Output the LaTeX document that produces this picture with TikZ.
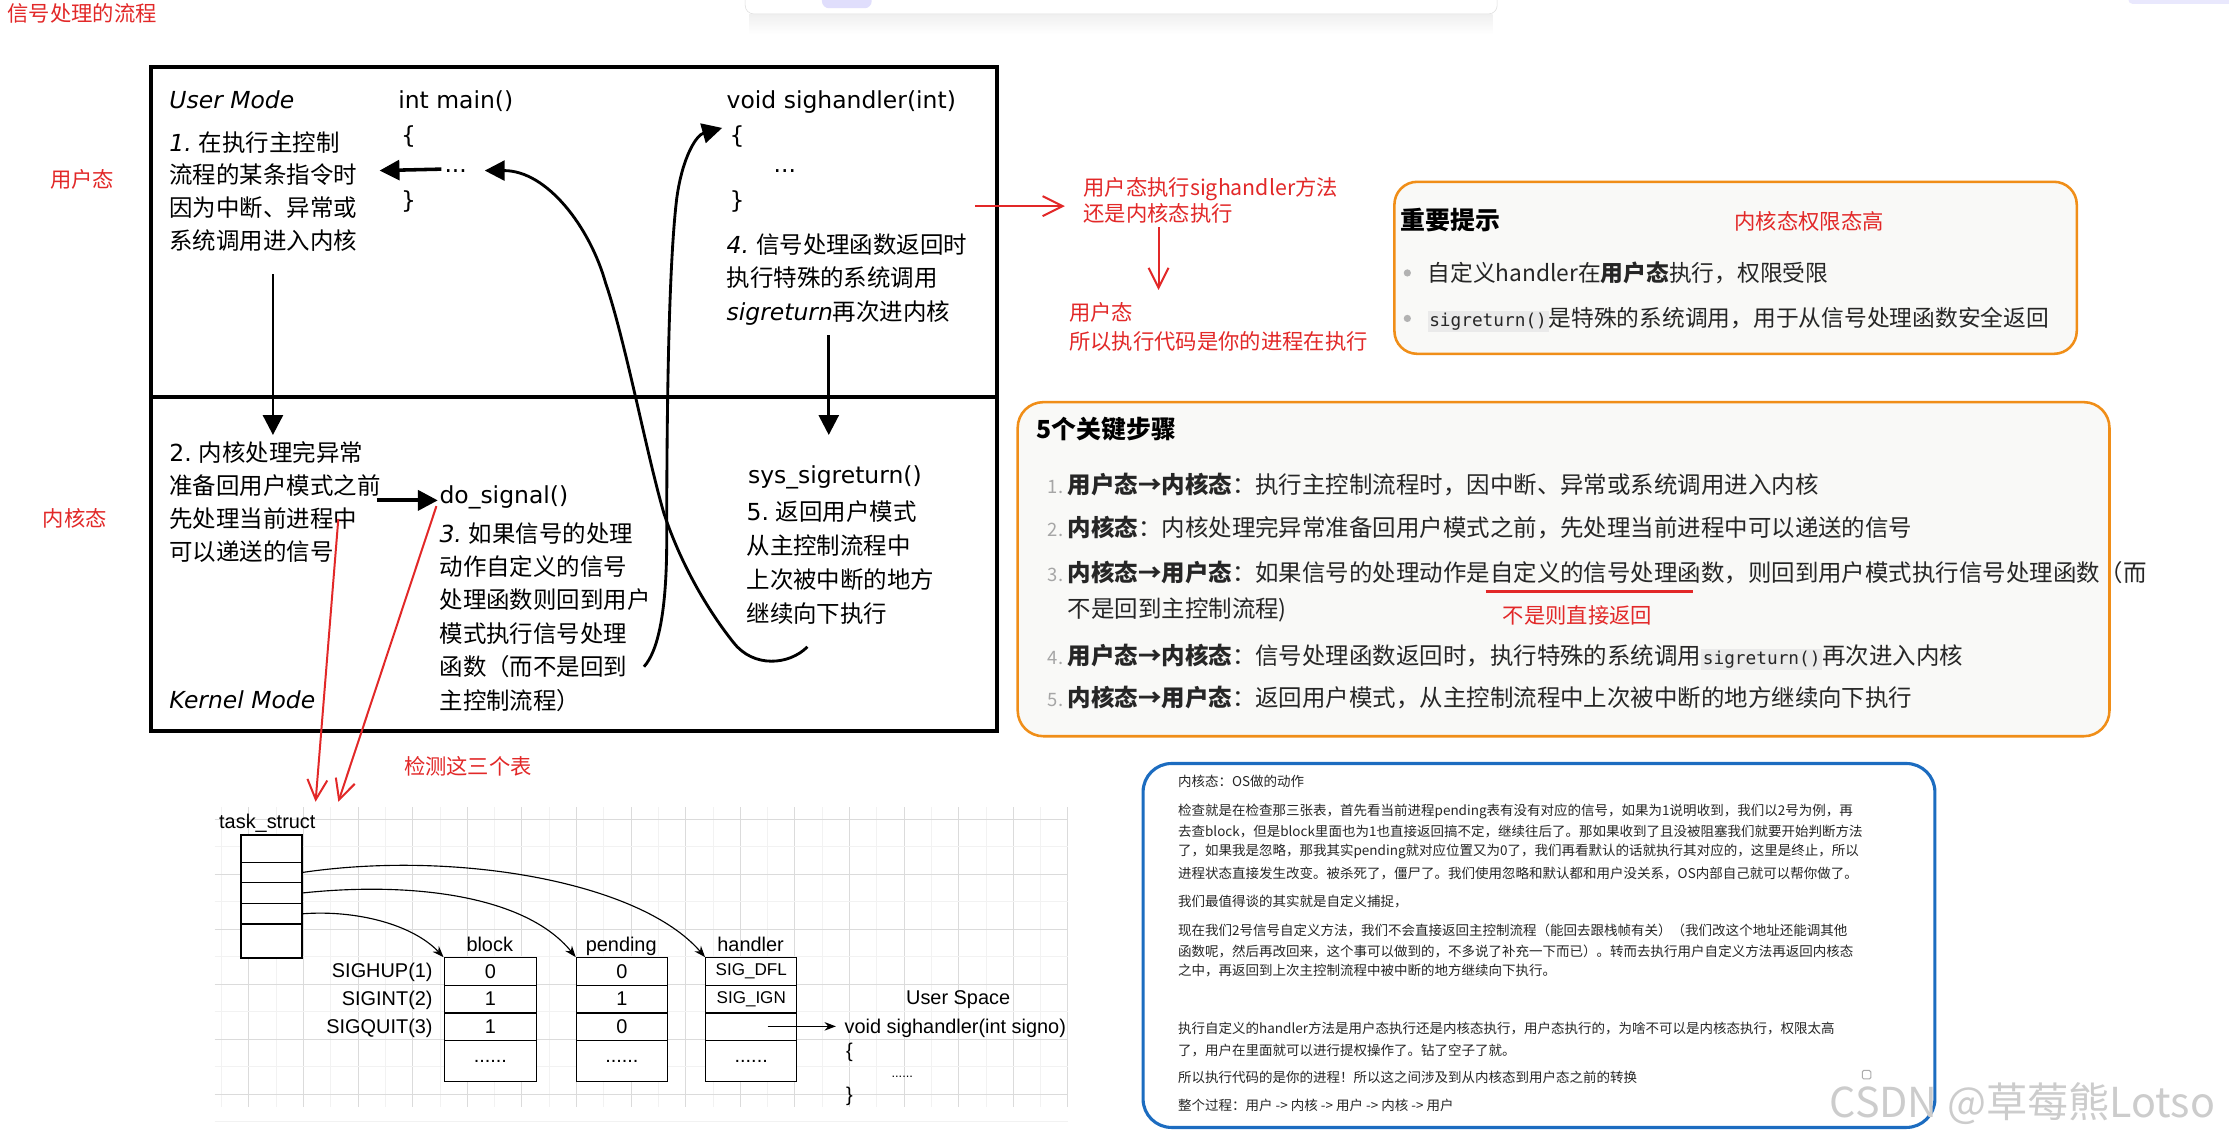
\documentclass[tikz,border=0pt]{standalone}
\usepackage{fontspec}
\setmainfont{Noto Sans CJK SC}
\newfontfamily\dejavu{DejaVu Sans}[ItalicFont={DejaVu Sans Oblique}]
\newfontfamily\monof{DejaVu Sans Mono}
\newfontfamily\tabf{Liberation Sans}
\usetikzlibrary{arrows.meta}
\definecolor{myred}{RGB}{226,40,40}
\definecolor{myorange}{RGB}{240,142,24}
\definecolor{myblue}{RGB}{28,108,192}
\definecolor{boxfill}{RGB}{249,249,247}
\definecolor{codebg}{RGB}{234,234,234}
\definecolor{lav}{RGB}{224,222,252}
\newcommand\codebox[1]{{\setlength\fboxsep{1.2pt}\colorbox{codebg}{\monof\fontsize{12.5}{14}\selectfont #1}}}
\begin{document}
\begin{tikzpicture}[x=1pt,y=-1pt,
 lnw/.style={anchor=base west,inner sep=0pt},
 cjm/.style={font=\fontsize{16.5}{20}\selectfont},
 latm/.style={font=\dejavu\fontsize{16.5}{20}\selectfont},
 itm/.style={font=\dejavu\itshape\fontsize{16.5}{20}\selectfont},
 redt/.style={text=myred,font=\fontsize{15}{18}\selectfont},
 bigarr/.style={line width=#1,-{Triangle[length=14pt,width=14pt]}},
 redarr/.style={draw=myred,line width=1.4pt,-{Straight Barb[length=14pt,width=14pt]}},
 rowt/.style={text=black!85,font=\fontsize{16.5}{20}\selectfont},
 numt/.style={text=gray!70,font=\fontsize{13}{16}\selectfont},
 tipt/.style={text=black!85,font=\fontsize{16}{18}\selectfont},
 bluet/.style={anchor=base west,inner sep=0pt,text=black!85,font=\fontsize{9.5}{11}\selectfont},
 gmaj/.style={draw=gray!28,line width=0.6pt},
 gmin/.style={draw=gray!10,line width=0.5pt},
 tcell/.style={draw,line width=0.9pt,fill=white,anchor=north west,inner sep=0pt,font=\tabf\fontsize{14}{16}\selectfont},
 tabt/.style={inner sep=0pt,font=\tabf\fontsize{14}{16}\selectfont},
 tarr/.style={line width=0.8pt,-{Stealth[length=8pt,width=6pt]}},
]
\fill[white] (0,0) rectangle (1568,799);
\useasboundingbox (0,0) rectangle (1568,799);

% faint top elements
\shade[top color=gray!12,bottom color=white] (527,10) rectangle (1050,24);
\node[draw=gray!25,fill=white,rounded corners=6pt,minimum width=529pt,minimum height=22pt,anchor=south west,inner sep=0pt] (topbar) at (524,10) {};
\node[fill=lav,rounded corners=5pt,minimum width=35pt,minimum height=16pt,anchor=south west,inner sep=0pt] (pill) at (578,6) {};
\node[fill=lav!70,rounded corners=3pt,minimum width=80pt,minimum height=12pt,anchor=south west,inner sep=0pt] (topright) at (1497,3) {};

% title and side labels
\node[lnw,redt] (title) at (5,15) {信号处理的流程};
\node[lnw,redt] (lblU) at (35,131.7) {用户态};
\node[lnw,redt] (lblK) at (30,370.7) {内核态};

% main box
\node[draw=black,line width=2.8pt,fill=white,minimum width=595pt,minimum height=467pt,anchor=north west,inner sep=0pt] (mainbox) at (105,46) {};
\coordinate (divL) at (105,279);
\coordinate (divR) at (700,279);
\draw[line width=2.8pt] (divL) -- (divR);

% user mode texts
\node[lnw,itm] (umode) at (119,76.3) {User Mode};
\node[lnw,latm] (mainf) at (280,76.3) {int main()};
\node[lnw,latm] (sighf) at (511,76.3) {void sighandler(int)};
\node[lnw,cjm] (s1a) at (119,106.3) {{\dejavu\itshape 1.} 在执行主控制};
\node[lnw,cjm] (s1b) at (119,129.3) {流程的某条指令时};
\node[lnw,cjm] (s1c) at (119,152.3) {因为中断、异常或};
\node[lnw,cjm] (s1d) at (119,175.3) {系统调用进入内核};
\node[lnw,latm] (mlb) at (282,101) {\{};
\node[lnw,latm] (mdots) at (312.5,121.5) {...};
\node[lnw,latm] (mrb) at (282,147) {\}};
\node[lnw,latm] (hlb) at (513,101) {\{};
\node[lnw,latm] (hdots) at (544,121.5) {...};
\node[lnw,latm] (hrb) at (513,147) {\}};
\node[lnw,cjm] (s4a) at (511,178.3) {{\dejavu\itshape 4.} 信号处理函数返回时};
\node[lnw,cjm] (s4b) at (511,201.8) {执行特殊的系统调用};
\node[lnw,cjm] (s4c) at (511,225.3) {{\dejavu\itshape sigreturn}再次进内核};

% kernel mode texts
\node[lnw,cjm] (s2a) at (119,324.3) {{\dejavu 2.} 内核处理完异常};
\node[lnw,cjm] (s2b) at (119,347.8) {准备回用户模式之前};
\node[lnw,cjm] (s2c) at (119,371.3) {先处理当前进程中};
\node[lnw,cjm] (s2d) at (119,394.3) {可以递送的信号};
\node[lnw,latm] (dosig) at (309,354.3) {do\_signal()};
\node[lnw,cjm] (s3a) at (309,381.3) {{\dejavu\itshape 3.} 如果信号的处理};
\node[lnw,cjm] (s3b) at (309,404.8) {动作自定义的信号};
\node[lnw,cjm] (s3c) at (309,428.3) {处理函数则回到用户};
\node[lnw,cjm] (s3d) at (309,451.8) {模式执行信号处理};
\node[lnw,cjm] (s3e) at (309,475.3) {函数（而不是回到};
\node[lnw,cjm] (s3f) at (309,498.8) {主控制流程）};
\node[lnw,latm] (sysret) at (526,340.3) {sys\_sigreturn()};
\node[lnw,cjm] (s5a) at (525,366.3) {{\dejavu 5.} 返回用户模式};
\node[lnw,cjm] (s5b) at (525,390.3) {从主控制流程中};
\node[lnw,cjm] (s5c) at (525,414.3) {上次被中断的地方};
\node[lnw,cjm] (s5d) at (525,437.8) {继续向下执行};
\node[lnw,itm] (kmode) at (119,498.3) {Kernel Mode};

% black arrows
\coordinate (a1s) at (192,193);
\coordinate (a1e) at (192,306);
\draw[bigarr=2pt] (a1s) -- (a1e);
\coordinate (a4s) at (583,236);
\coordinate (a4e) at (583,306);
\draw[bigarr=2pt] (a4s) -- (a4e);
\coordinate (a2s) at (265,352);
\coordinate (a2e) at (308,352);
\draw[bigarr=2.8pt] (a2s) -- (a2e);
\coordinate (a0e) at (267,120);
\draw[bigarr=2.5pt] (mdots.west) ++(-2,-1.5) coordinate (a0s) (a0s) -- (a0e);
\coordinate (cAs) at (453,469);
\coordinate (cAe) at (508,90);
\draw[bigarr=2pt] (cAs) .. controls (463,458) and (469,430) .. (469,380) .. controls (469,300) and (470,190) .. (476,140) .. controls (480,110) and (490,95) .. (cAe);
\coordinate (cBs) at (568,455);
\coordinate (cBe) at (341,120);
\draw[bigarr=2pt] (cBs) .. controls (555,468) and (530,470) .. (516,452) .. controls (500,432) and (480,400) .. (467,361) .. controls (455,320) and (440,240) .. (426,199) .. controls (415,160) and (385,120) .. (cBe);

% red annotations right of main box
\coordinate (ra1s) at (686,145);
\coordinate (ra1e) at (749,145);
\draw[redarr] (ra1s) -- (ra1e);
\node[lnw,redt] (q1) at (762,137.5) {用户态执行sighandler方法};
\node[lnw,redt] (q2) at (762,155.5) {还是内核态执行};
\coordinate (ra2s) at (815,160);
\coordinate (ra2e) at (815,204);
\draw[redarr] (ra2s) -- (ra2e);
\node[lnw,redt] (q3) at (752,225.7) {用户态};
\node[lnw,redt] (q4) at (752,245.7) {所以执行代码是你的进程在执行};

% box 1: important tips
\node[draw=myorange,line width=1.8pt,fill=boxfill,rounded corners=16pt,minimum width=480pt,minimum height=121pt,anchor=north west,inner sep=0pt] (tipbox) at (980,127) {};
\node[lnw,font=\bfseries\fontsize{17.5}{20}\selectfont] (tiphead) at (985,161.5) {重要提示};
\node[lnw,redt] (tipred) at (1220,161.7) {内核态权限态高};
\node[circle,fill=gray!60,inner sep=1.8pt] (bul1) at (990,192) {};
\node[lnw,tipt] (tp1) at (1004,197.8) {自定义handler在\textbf{用户态}执行，权限受限};
\node[circle,fill=gray!60,inner sep=1.8pt] (bul2) at (990,224) {};
\node[lnw,tipt] (tp2) at (1004,229.8) {\codebox{sigreturn()}是特殊的系统调用，用于从信号处理函数安全返回};

% box 2: five key steps
\node[draw=myorange,line width=1.8pt,fill=boxfill,rounded corners=18pt,minimum width=768pt,minimum height=235pt,anchor=north west,inner sep=0pt] (stepbox) at (715,282) {};
\node[lnw,font=\bfseries\fontsize{17.5}{20}\selectfont] (stephead) at (729,308.6) {5个关键步骤};
\node[lnw,numt] (n1) at (737,347.3) {1.};
\node[lnw,rowt] (r1) at (751,347.3) {\textbf{用户态→内核态}：执行主控制流程时，因中断、异常或系统调用进入内核};
\node[lnw,numt] (n2) at (737,377.3) {2.};
\node[lnw,rowt] (r2) at (751,377.3) {\textbf{内核态}：内核处理完异常准备回用户模式之前，先处理当前进程中可以递送的信号};
\node[lnw,numt] (n3) at (737,409.3) {3.};
\node[lnw,rowt] (r3) at (751,409.3) {\textbf{内核态→用户态}：如果信号的处理动作是自定义的信号处理函数，则回到用户模式执行信号处理函数（而};
\node[lnw,rowt] (r3b) at (751,434.3) {不是回到主控制流程)};
\coordinate (ul1) at (1045,416);
\coordinate (ul2) at (1191,416);
\draw[myred,line width=1.6pt] (ul1) -- (ul2);
\node[lnw,redt] (notret) at (1057,438.7) {不是则直接返回};
\node[lnw,numt] (n4) at (737,467.3) {4.};
\node[lnw,rowt] (r4) at (751,467.3) {\textbf{用户态→内核态}：信号处理函数返回时，执行特殊的系统调用\codebox{sigreturn()}再次进入内核};
\node[lnw,numt] (n5) at (737,497.3) {5.};
\node[lnw,rowt] (r5) at (751,497.3) {\textbf{内核态→用户态}：返回用户模式，从主控制流程中上次被中断的地方继续向下执行};

% blue box
\node[draw=myblue,line width=2.2pt,fill=white,rounded corners=20pt,minimum width=557pt,minimum height=256pt,anchor=north west,inner sep=0pt] (notebox) at (803,536) {};
\node[bluet] (bt1) at (828.5,553.4) {内核态：OS做的动作};
\node[bluet] (bt2) at (828.5,573.4) {检查就是在检查那三张表，首先看当前进程pending表有没有对应的信号，如果为1说明收到，我们以2号为例，再};
\node[bluet] (bt3) at (828.5,588.6) {去查block，但是block里面也为1也直接返回搞不定，继续往后了。那如果收到了且没被阻塞我们就要开始判断方法};
\node[bluet] (bt4) at (828.5,602.0) {了，如果我是忽略，那我其实pending就对应位置又为0了，我们再看默认的话就执行其对应的，这里是终止，所以};
\node[bluet] (bt5) at (828.5,617.9) {进程状态直接发生改变。被杀死了，僵尸了。我们使用忽略和默认都和用户没关系，OS内部自己就可以帮你做了。};
\node[bluet] (bt6) at (828.5,637.9) {我们最值得谈的其实就是自定义捕捉，};
\node[bluet] (bt7) at (828.5,657.8) {现在我们2号信号自定义方法，我们不会直接返回主控制流程（能回去跟栈帧有关）（我们改这个地址还能调其他};
\node[bluet] (bt8) at (828.5,673.0) {函数呢，然后再改回来，这个事可以做到的，不多说了补充一下而已）。转而去执行用户自定义方法再返回内核态};
\node[bluet] (bt9) at (828.5,686.4) {之中，再返回到上次主控制流程中被中断的地方继续向下执行。};
\node[bluet] (bt10) at (828.5,727.0) {执行自定义的handler方法是用户态执行还是内核态执行，用户态执行的，为啥不可以是内核态执行，权限太高};
\node[bluet] (bt11) at (828.5,742.2) {了，用户在里面就可以进行提权操作了。钻了空子了就。};
\node[bluet] (bt12) at (828.5,761.4) {所以执行代码的是你的进程！所以这之间涉及到从内核态到用户态之前的转换};
\node[bluet] (bt13) at (828.5,780.9) {整个过程：用户 -> 内核 -> 用户 -> 内核 -> 用户};
\node[draw=gray!65,line width=0.7pt,rounded corners=1pt,minimum width=6pt,minimum height=6pt,inner sep=0pt] (icon) at (1313,756) {};
\node[lnw,text=gray!40,font=\fontsize{29}{32}\selectfont] (wm) at (1287,786) {CSDN @草莓熊Lotso};

% grid background
\foreach \i in {0,...,15} {
  \draw[gmin] ({155.9+38.4*\i},568) -- ({155.9+38.4*\i},779);
  \draw[gmaj] ({175.1+38.4*\i},568) -- ({175.1+38.4*\i},779);
}
\foreach \j in {0,...,5} {
  \draw[gmin] (151,{595.65+38.7*\j}) -- (751,{595.65+38.7*\j});
  \draw[gmaj] (151,{576.3+38.7*\j}) -- (751,{576.3+38.7*\j});
}

% task_struct
\node[tabt,anchor=base west] (tsl) at (154,582.5) {task\_struct};
\node[tcell,minimum width=43pt,minimum height=19.2pt] (ts1) at (169,587) {};
\node[tcell,minimum width=43pt,minimum height=14.1pt] (ts2) at (169,606.2) {};
\node[tcell,minimum width=43pt,minimum height=14.8pt] (ts3) at (169,620.3) {};
\node[tcell,minimum width=43pt,minimum height=14.5pt] (ts4) at (169,635.1) {};
\node[tcell,minimum width=43pt,minimum height=23.9pt] (ts5) at (169,649.6) {};

% tables
\node[tabt,anchor=base] (hdb) at (344.5,669) {block};
\node[tabt,anchor=base] (hdp) at (437,669) {pending};
\node[tabt,anchor=base] (hdh) at (528,669) {handler};
\node[tabt,anchor=base east] (l1) at (304.5,687.8) {SIGHUP(1)};
\node[tabt,anchor=base east] (l2) at (304.5,707.3) {SIGINT(2)};
\node[tabt,anchor=base east] (l3) at (304.5,726.8) {SIGQUIT(3)};

\node[tcell,minimum width=65pt,minimum height=19.3pt] (b1) at (312,673.3) {0};
\node[tcell,minimum width=65pt,minimum height=19.5pt] (b2) at (312,692.6) {1};
\node[tcell,minimum width=65pt,minimum height=19.3pt] (b3) at (312,712.1) {1};
\node[tcell,minimum width=65pt,minimum height=29pt] (b4) at (312,731.4) {......};
\node[tcell,minimum width=64pt,minimum height=19.3pt] (p1) at (405,673.3) {0};
\node[tcell,minimum width=64pt,minimum height=19.5pt] (p2) at (405,692.6) {1};
\node[tcell,minimum width=64pt,minimum height=19.3pt] (p3) at (405,712.1) {0};
\node[tcell,minimum width=64pt,minimum height=29pt] (p4) at (405,731.4) {......};
\node[tcell,minimum width=64pt,minimum height=19.3pt] (h1) at (496,673.3) {{\fontsize{12}{13}\selectfont SIG\_DFL}};
\node[tcell,minimum width=64pt,minimum height=19.5pt] (h2) at (496,692.6) {{\fontsize{12}{13}\selectfont SIG\_IGN}};
\node[tcell,minimum width=64pt,minimum height=19.3pt] (h3) at (496,712.1) {};
\node[tcell,minimum width=64pt,minimum height=29pt] (h4) at (496,731.4) {......};

\draw[tarr] (ts2.east) .. controls (320,598) and (450,620) .. (h1.north west);
\draw[tarr] (ts3.east) .. controls (290,620) and (370,630) .. (p1.north west);
\draw[tarr] (ts4.east) .. controls (250,640) and (290,650) .. (b1.north west);

% user space handler
\node[tabt,anchor=base] (uspace) at (674,706.5) {User Space};
\node[tabt,anchor=base west] (usig) at (594,726.8) {void sighandler(int signo)};
\node[tabt,anchor=base west] (ulb) at (595,744) {\{};
\node[tabt,anchor=base west,font=\tabf\fontsize{9}{10}\selectfont] (udots) at (627,758) {......};
\node[tabt,anchor=base west] (urb) at (595,775) {\}};
\coordinate (hs) at (540,722);
\coordinate (he) at (588,722);
\draw[tarr,line width=1pt] (hs) -- (he);

% red arrows into task_struct area
\coordinate (r1s) at (238,365);
\coordinate (r1e) at (222,564);
\draw[redarr] (r1s) -- (r1e);
\coordinate (r2s) at (307,356);
\coordinate (r2e) at (238,564);
\draw[redarr] (r2s) -- (r2e);
\node[lnw,redt] (chk) at (284,544.7) {检测这三个表};
\end{tikzpicture}
\end{document}
